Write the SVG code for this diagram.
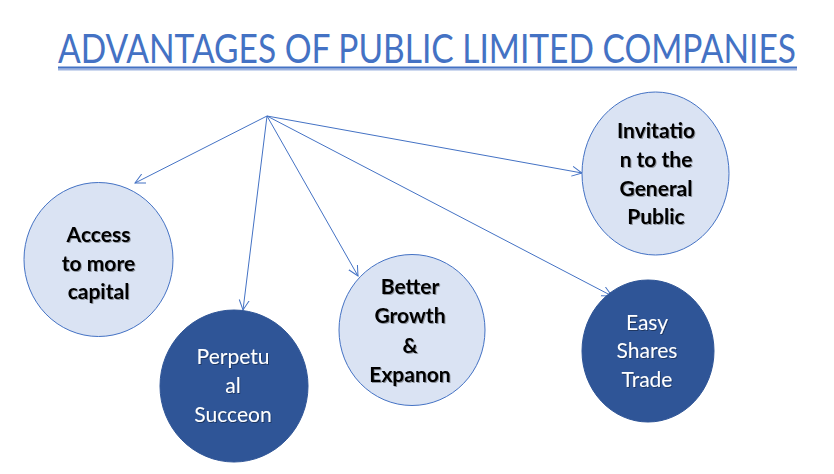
<svg xmlns="http://www.w3.org/2000/svg" width="834" height="474" viewBox="0 0 834 474">
<style>
.title{font-family:Lato,"Liberation Sans",sans-serif;font-size:41px;fill:#4472C4}
.light{fill:#DAE3F3;stroke:#4472C4;stroke-width:1}
.dark{fill:#2F5597;stroke:#2F5597;stroke-width:1}
.lt{font-family:Lato,"Liberation Sans",sans-serif;font-weight:bold;font-size:21px;fill:#000;text-anchor:middle}
.dt{font-family:Lato,"Liberation Sans",sans-serif;font-size:21px;fill:#fff;text-anchor:middle}
.conn{stroke:#4472C4;stroke-width:1;fill:none;marker-end:url(#arr)}
</style>
<defs>
<marker id="arr" markerWidth="12" markerHeight="12" refX="10" refY="5" orient="auto" markerUnits="userSpaceOnUse" viewBox="0 0 12 10">
<path d="M0,0 L10,5 L0,10" fill="none" stroke="#4472C4" stroke-width="1"/>
</marker>
<filter id="sh" x="-10%" y="-10%" width="130%" height="130%">
<feDropShadow dx="1" dy="1" stdDeviation="0.6" flood-color="#000" flood-opacity="0.35"/>
</filter>
</defs>
<rect width="834" height="474" fill="#fff"/>
<g id="title">
<text class="title" x="58" y="63" textLength="738" lengthAdjust="spacingAndGlyphs">ADVANTAGES OF PUBLIC LIMITED COMPANIES</text>
<line x1="58" y1="69.5" x2="797" y2="69.5" stroke="#9DB3E0" stroke-width="2"/>
<line x1="58" y1="67.5" x2="797" y2="67.5" stroke="#4472C4" stroke-width="2"/>
</g>
<g id="connectors">
<line class="conn" x1="267" y1="116" x2="135" y2="183"/>
<line class="conn" x1="267" y1="116" x2="243" y2="310"/>
<line class="conn" x1="267" y1="116" x2="358" y2="276"/>
<line class="conn" x1="267" y1="116" x2="582" y2="173"/>
<line class="conn" x1="267" y1="116" x2="612" y2="296"/>
</g>
<g id="n1">
<ellipse class="light" cx="98.5" cy="259.5" rx="74.5" ry="77"/>
<g filter="url(#sh)">
<text class="lt" x="98.5" y="242">Access</text>
<text class="lt" x="98.5" y="271">to more</text>
<text class="lt" x="98.5" y="299">capital</text>
</g>
</g>
<g id="n2">
<ellipse class="dark" cx="234" cy="386" rx="74" ry="76"/>
<g filter="url(#sh)">
<text class="dt" x="233" y="364">Perpetu</text>
<text class="dt" x="233" y="393">al</text>
<text class="dt" x="233" y="422">Succeon</text>
</g>
</g>
<g id="n3">
<ellipse class="light" cx="412" cy="330" rx="73" ry="75.5"/>
<g filter="url(#sh)">
<text class="lt" x="410" y="294">Better</text>
<text class="lt" x="410" y="323">Growth</text>
<text class="lt" x="410" y="353">&amp;</text>
<text class="lt" x="410" y="382">Expanon</text>
</g>
</g>
<g id="n4">
<ellipse class="light" cx="655.5" cy="173.5" rx="73.5" ry="81.5"/>
<g filter="url(#sh)">
<text class="lt" x="656" y="138">Invitatio</text>
<text class="lt" x="656" y="167">n to the</text>
<text class="lt" x="656" y="196">General</text>
<text class="lt" x="656" y="224">Public</text>
</g>
</g>
<g id="n5">
<ellipse class="dark" cx="648" cy="351" rx="66" ry="71"/>
<g filter="url(#sh)">
<text class="dt" x="647" y="330">Easy</text>
<text class="dt" x="647" y="358">Shares</text>
<text class="dt" x="647" y="387">Trade</text>
</g>
</g>
</svg>
